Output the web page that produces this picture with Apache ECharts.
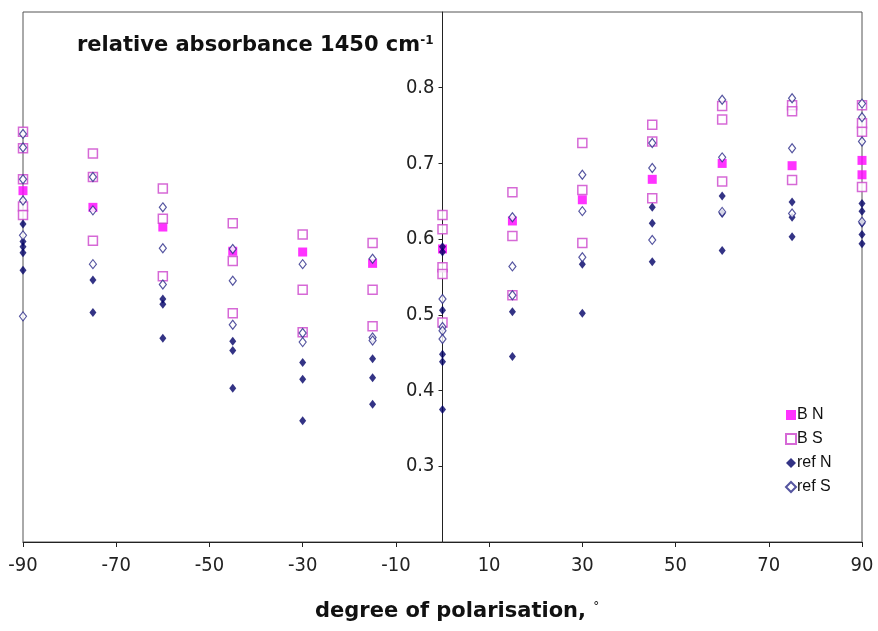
<!DOCTYPE html>
<html><head><meta charset="utf-8">
<script src="https://cdn.jsdelivr.net/npm/echarts@6/dist/echarts.min.js"></script>
<style>html,body{margin:0;padding:0;background:#fff}#c{width:878px;height:631px}</style>
</head><body><div id="c"></div>
<script>
const xTicks = [-90,-70,-50,-30,-10,10,30,50,70,90];
const seriesNames = ['B N','B S','ref N','ref S'];
const BN = [[-90,0.664],[-75,0.642],[-60,0.616],[-45,0.584],[-30,0.583],[-15,0.568],[0,0.587],[15,0.624],[30,0.652],[45,0.679],[60,0.700],[75,0.697],[90,0.704],[90,0.685]];
const BS = [[-90,0.742],[-90,0.720],[-90,0.679],[-90,0.643],[-90,0.632],
  [-75,0.713],[-75,0.682],[-75,0.598],
  [-60,0.667],[-60,0.627],[-60,0.551],
  [-45,0.621],[-45,0.571],[-45,0.502],
  [-30,0.606],[-30,0.533],[-30,0.477],
  [-15,0.595],[-15,0.533],[-15,0.485],
  [0,0.632],[0,0.613],[0,0.563],[0,0.554],[0,0.490],
  [15,0.662],[15,0.604],[15,0.526],
  [30,0.727],[30,0.665],[30,0.595],
  [45,0.751],[45,0.729],[45,0.654],
  [60,0.776],[60,0.758],[60,0.676],
  [75,0.777],[75,0.769],[75,0.678],
  [90,0.777],[90,0.753],[90,0.742],[90,0.669]];
const refN = [[-90,0.620],[-90,0.597],[-90,0.590],[-90,0.582],[-90,0.559],
  [-75,0.546],[-75,0.503],
  [-60,0.521],[-60,0.514],[-60,0.469],
  [-45,0.465],[-45,0.453],[-45,0.403],
  [-30,0.437],[-30,0.415],[-30,0.360],
  [-15,0.442],[-15,0.417],[-15,0.382],
  [0,0.590],[0,0.583],[0,0.506],[0,0.448],[0,0.438],[0,0.375],
  [15,0.504],[15,0.445],
  [30,0.567],[30,0.502],
  [45,0.642],[45,0.621],[45,0.570],
  [60,0.657],[60,0.634],[60,0.585],
  [75,0.649],[75,0.629],[75,0.603],
  [90,0.647],[90,0.637],[90,0.621],[90,0.606],[90,0.594]];
const refS = [[-90,0.739],[-90,0.721],[-90,0.679],[-90,0.651],[-90,0.605],[-90,0.498],
  [-75,0.682],[-75,0.638],[-75,0.567],
  [-60,0.642],[-60,0.588],[-60,0.540],
  [-45,0.587],[-45,0.545],[-45,0.487],
  [-30,0.567],[-30,0.476],[-30,0.464],
  [-15,0.574],[-15,0.470],[-15,0.466],
  [0,0.521],[0,0.484],[0,0.479],[0,0.468],
  [15,0.629],[15,0.564],[15,0.526],
  [30,0.685],[30,0.637],[30,0.576],
  [45,0.727],[45,0.694],[45,0.599],
  [60,0.784],[60,0.708],[60,0.636],
  [75,0.786],[75,0.720],[75,0.634],
  [90,0.779],[90,0.761],[90,0.729],[90,0.623]];

const chart = echarts.init(document.getElementById('c'), null, {renderer:'canvas'});
const tickFont = {fontFamily:'"Liberation Sans Narrow","DejaVu Sans Condensed",Arial,sans-serif', fontSize:20, color:'#222'};
chart.setOption({
  animation:false,
  backgroundColor:'#fff',
  grid:{left:23, right:16, top:12, bottom:89, show:true, borderColor:'#555', borderWidth:1, backgroundColor:'#fff', containLabel:false, outerBoundsMode:'none'},
  xAxis:{type:'value', min:-90, max:90, interval:20,
    axisLine:{show:true, onZero:false, lineStyle:{color:'#222', width:1}},
    axisTick:{show:true, inside:false, length:5, lineStyle:{color:'#222'}},
    axisLabel:Object.assign({margin:14, formatter:v=>xTicks.includes(v)?String(v):''}, tickFont),
    splitLine:{show:false}},
  yAxis:{type:'value', min:0.2, max:0.9, interval:0.1, position:'left', offset:-419.5,
    axisLine:{show:true, onZero:false, lineStyle:{color:'#222', width:1}},
    axisTick:{show:true, inside:false, length:4, lineStyle:{color:'#222'}},
    axisLabel:Object.assign({margin:8, showMinLabel:false, showMaxLabel:false, formatter:v=>v.toFixed(1)}, tickFont),
    splitLine:{show:false}},
  legend:{orient:'vertical', left:780, top:402, itemGap:8, itemWidth:10, itemHeight:10,
    data:seriesNames,
    textStyle:{fontFamily:'Arial,"Liberation Sans",sans-serif', fontSize:16, color:'#111', padding:[0,0,0,-4]}},
  graphic:[
    {type:'text', left:77, top:35, style:{rich:{a:{fontFamily:'"DejaVu Sans",sans-serif', fontWeight:'bold', fontSize:21, fill:'#111'}, s:{fontFamily:'"DejaVu Sans",sans-serif', fontWeight:'bold', fontSize:12, fill:'#111', verticalAlign:'top', padding:[0,0,10,0]}}, text:'{a|relative absorbance 1450 cm}{s|-1}'}},
    {type:'text', left:315, top:601, style:{rich:{a:{fontFamily:'"DejaVu Sans",sans-serif', fontWeight:'bold', fontSize:21, fill:'#111'}, s:{fontFamily:'"DejaVu Sans",sans-serif', fontSize:12, fill:'#111', padding:[0,0,10,0]}}, text:'{a|degree of polarisation, }{s|°}'}}
  ],
  series:[
    {name:'B N', type:'scatter', data:BN, symbol:'rect', symbolSize:9, itemStyle:{color:'#ff00ff'}, z:2},
    {name:'B S', type:'scatter', data:BS, symbol:'rect', symbolSize:9, itemStyle:{color:'#ffffff', borderColor:'#cc44cc', borderWidth:1.5}, z:3},
    {name:'ref N', type:'scatter', data:refN, symbol:'diamond', symbolSize:[7,9], itemStyle:{color:'#000066'}, z:4},
    {name:'ref S', type:'scatter', data:refS, symbol:'diamond', symbolSize:[7,9], itemStyle:{color:'#ffffff', borderColor:'#2a2a88', borderWidth:1.2}, z:5}
  ]
});
</script></body></html>
